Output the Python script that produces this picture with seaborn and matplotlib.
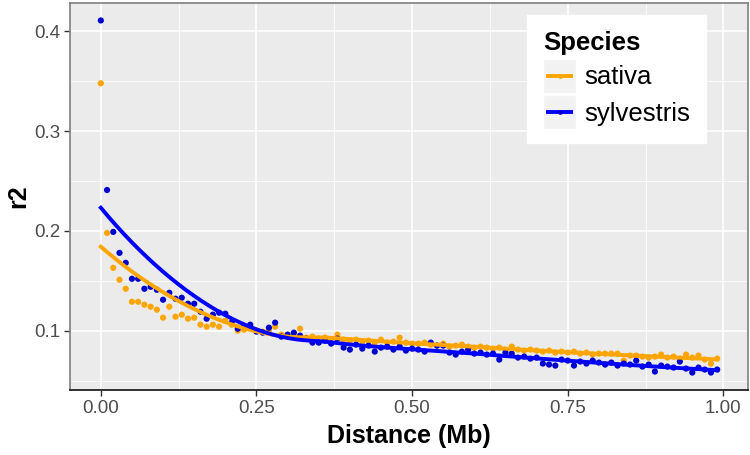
import numpy as np
import pandas as pd
import seaborn as sns
import matplotlib
matplotlib.use("Agg")
import matplotlib.pyplot as plt
from matplotlib.lines import Line2D
from matplotlib.patches import Rectangle
from matplotlib.legend_handler import HandlerBase
from matplotlib.ticker import FixedLocator

# ---------------- data ----------------
distance_mb = [0.00, 0.01, 0.02, 0.03, 0.04, 0.05, 0.06, 0.07, 0.08, 0.09,
               0.10, 0.11, 0.12, 0.13, 0.14, 0.15, 0.16, 0.17, 0.18, 0.19,
               0.20, 0.21, 0.22, 0.23, 0.24, 0.25, 0.26, 0.27, 0.28, 0.29,
               0.30, 0.31, 0.32, 0.33, 0.34, 0.35, 0.36, 0.37, 0.38, 0.39,
               0.40, 0.41, 0.42, 0.43, 0.44, 0.45, 0.46, 0.47, 0.48, 0.49,
               0.50, 0.51, 0.52, 0.53, 0.54, 0.55, 0.56, 0.57, 0.58, 0.59,
               0.60, 0.61, 0.62, 0.63, 0.64, 0.65, 0.66, 0.67, 0.68, 0.69,
               0.70, 0.71, 0.72, 0.73, 0.74, 0.75, 0.76, 0.77, 0.78, 0.79,
               0.80, 0.81, 0.82, 0.83, 0.84, 0.85, 0.86, 0.87, 0.88, 0.89,
               0.90, 0.91, 0.92, 0.93, 0.94, 0.95, 0.96, 0.97, 0.98, 0.99]

r2_sativa = [0.348, 0.198, 0.163, 0.151, 0.142, 0.129, 0.129, 0.126, 0.124, 0.121,
             0.113, 0.124, 0.114, 0.116, 0.112, 0.113, 0.106, 0.104, 0.106, 0.104,
             0.110, 0.106, 0.100, 0.101, 0.104, 0.100, 0.099, 0.100, 0.104, 0.096,
             0.094, 0.097, 0.102, 0.093, 0.094, 0.092, 0.093, 0.091, 0.096, 0.091,
             0.090, 0.091, 0.089, 0.090, 0.088, 0.091, 0.088, 0.089, 0.093, 0.088,
             0.087, 0.087, 0.088, 0.086, 0.085, 0.087, 0.084, 0.085, 0.086, 0.084,
             0.083, 0.084, 0.083, 0.082, 0.083, 0.081, 0.084, 0.081, 0.080, 0.081,
             0.080, 0.079, 0.080, 0.078, 0.079, 0.078, 0.079, 0.077, 0.078, 0.076,
             0.077, 0.077, 0.077, 0.077, 0.070, 0.075, 0.075, 0.074, 0.073, 0.074,
             0.076, 0.073, 0.074, 0.072, 0.076, 0.073, 0.075, 0.071, 0.067, 0.072]

r2_sylvestris = [0.411, 0.241, 0.199, 0.178, 0.168, 0.152, 0.152, 0.142, 0.144, 0.141,
                 0.131, 0.138, 0.132, 0.133, 0.127, 0.127, 0.119, 0.112, 0.116, 0.118,
                 0.117, 0.108, 0.102, 0.104, 0.106, 0.099, 0.098, 0.103, 0.108, 0.094,
                 0.096, 0.098, 0.095, 0.092, 0.088, 0.088, 0.090, 0.087, 0.092, 0.083,
                 0.081, 0.086, 0.082, 0.085, 0.079, 0.083, 0.084, 0.081, 0.084, 0.080,
                 0.082, 0.081, 0.079, 0.088, 0.085, 0.085, 0.078, 0.076, 0.079, 0.081,
                 0.077, 0.078, 0.076, 0.077, 0.071, 0.078, 0.077, 0.073, 0.074, 0.072,
                 0.073, 0.067, 0.066, 0.065, 0.071, 0.070, 0.065, 0.069, 0.067, 0.070,
                 0.068, 0.066, 0.068, 0.065, 0.067, 0.066, 0.070, 0.064, 0.066, 0.059,
                 0.065, 0.064, 0.063, 0.069, 0.062, 0.058, 0.063, 0.061, 0.058, 0.061]

species = ["sativa", "sylvestris"]
point_colors = {"sativa": "#FFA500", "sylvestris": "#0000CD"}
line_colors = {"sativa": "#FFA500", "sylvestris": "#0000FF"}

df = pd.concat([
    pd.DataFrame({"Distance": distance_mb, "r2": r2_sativa, "Species": "sativa"}),
    pd.DataFrame({"Distance": distance_mb, "r2": r2_sylvestris, "Species": "sylvestris"}),
], ignore_index=True)


# ---------------- loess smoother (like ggplot geom_smooth default) ----------------
def loess(x, y, xs, span=0.75):
    x = np.asarray(x, float)
    y = np.asarray(y, float)
    n = len(x)
    q = int(np.floor(n * span))
    out = []
    for x0 in xs:
        d = np.abs(x - x0)
        h = np.sort(d)[q - 1]
        u = np.clip(d / h, 0, 1)
        w = (1 - u ** 3) ** 3
        X = np.column_stack([np.ones(n), x - x0, (x - x0) ** 2])
        Wt = np.sqrt(w)
        beta, *_ = np.linalg.lstsq(X * Wt[:, None], y * Wt, rcond=None)
        out.append(beta[0])
    return np.array(out)


grid = np.linspace(min(distance_mb), max(distance_mb), 80)
smooth_rows = []
for sp in species:
    sub = df[df.Species == sp]
    fit = loess(sub.Distance.values, sub.r2.values, grid)
    smooth_rows.append(pd.DataFrame({"Distance": grid, "r2": fit, "Species": sp}))
smooth = pd.concat(smooth_rows, ignore_index=True)

# ---------------- figure ----------------
W, H = 750, 455
fig = plt.figure(figsize=(W / 100, H / 100), dpi=100)
ax = fig.add_axes([70 / W, 1 - 390 / H, 678 / W, 387 / H])
ax.set_facecolor("#EBEBEB")

sns.scatterplot(data=df, x="Distance", y="r2", hue="Species", palette=point_colors,
                hue_order=species, s=20, linewidth=0, ax=ax, legend=False, zorder=3)
sns.lineplot(data=smooth, x="Distance", y="r2", hue="Species", palette=line_colors,
             hue_order=species, linewidth=2.8, ax=ax, legend=False, zorder=4)

ax.set_xlim(-0.0495, 1.0395)
ax.set_ylim(0.0405, 0.4285)

ax.xaxis.set_major_locator(FixedLocator([0, 0.25, 0.5, 0.75, 1.0]))
ax.xaxis.set_minor_locator(FixedLocator([0.125, 0.375, 0.625, 0.875]))
ax.yaxis.set_major_locator(FixedLocator([0.1, 0.2, 0.3, 0.4]))
ax.yaxis.set_minor_locator(FixedLocator([0.05, 0.15, 0.25, 0.35]))
ax.set_xticklabels(["0.00", "0.25", "0.50", "0.75", "1.00"])
ax.set_yticklabels(["0.1", "0.2", "0.3", "0.4"])

ax.grid(which="major", color="white", linewidth=1.2, zorder=0)
ax.grid(which="minor", color="white", linewidth=0.6, zorder=0)
ax.set_axisbelow(True)

fam = ["Liberation Sans", "DejaVu Sans"]
ax.tick_params(axis="both", which="major", length=4, width=1, color="#333333",
               labelcolor="#4D4D4D", labelsize=13.5, pad=3)
ax.tick_params(axis="both", which="minor", length=0)
for lab in ax.get_xticklabels() + ax.get_yticklabels():
    lab.set_family(fam)

ax.set_xlabel("Distance (Mb)", fontsize=18, fontweight="bold", family=fam, color="black", labelpad=5)
ax.set_ylabel("r2", fontsize=18, fontweight="bold", family=fam, color="black", labelpad=3)

for side in ["left", "top", "right"]:
    ax.spines[side].set_color("#7F7F7F")
    ax.spines[side].set_linewidth(1.2)
ax.spines["bottom"].set_color("#222222")
ax.spines["bottom"].set_linewidth(1.3)


# ---------------- legend with ggplot-like grey key squares ----------------
class LegendKey:
    def __init__(self, line_color, point_color):
        self.line_color = line_color
        self.point_color = point_color


class KeyHandler(HandlerBase):
    def create_artists(self, legend, orig_handle, xdescent, ydescent, width, height,
                       fontsize, trans):
        s = width
        cy = -ydescent + height / 2
        x0 = -xdescent
        rect = Rectangle((x0, cy - s / 2), s, s, facecolor="#F2F2F2", edgecolor="white",
                         linewidth=1, transform=trans)
        ln = Line2D([x0 + 0.1 * s, x0 + 0.9 * s], [cy, cy], color=orig_handle.line_color,
                    lw=2.8, solid_capstyle="butt", transform=trans)
        pt = Line2D([x0 + s / 2], [cy], marker="o", markersize=3.4, linestyle="none",
                    markerfacecolor=orig_handle.point_color, markeredgewidth=0,
                    transform=trans)
        return [rect, ln, pt]


handles = [LegendKey(line_colors[sp], point_colors[sp]) for sp in species]
leg = fig.legend(handles, species, title="Species", loc="upper left",
                 bbox_to_anchor=(527 / W, 1 - 15 / H), frameon=True, fancybox=False,
                 framealpha=1, edgecolor="white", facecolor="white",
                 prop={"family": fam, "size": 18.5}, handlelength=1.3, handleheight=1.45,
                 handletextpad=0.3, borderpad=0.62, labelspacing=0.22, borderaxespad=0,
                 handler_map={LegendKey: KeyHandler()})
leg.get_title().set_fontproperties({"family": fam, "size": 18.5, "weight": "bold"})
leg._legend_box.align = "left"

fig.savefig("out.png", dpi=100)
